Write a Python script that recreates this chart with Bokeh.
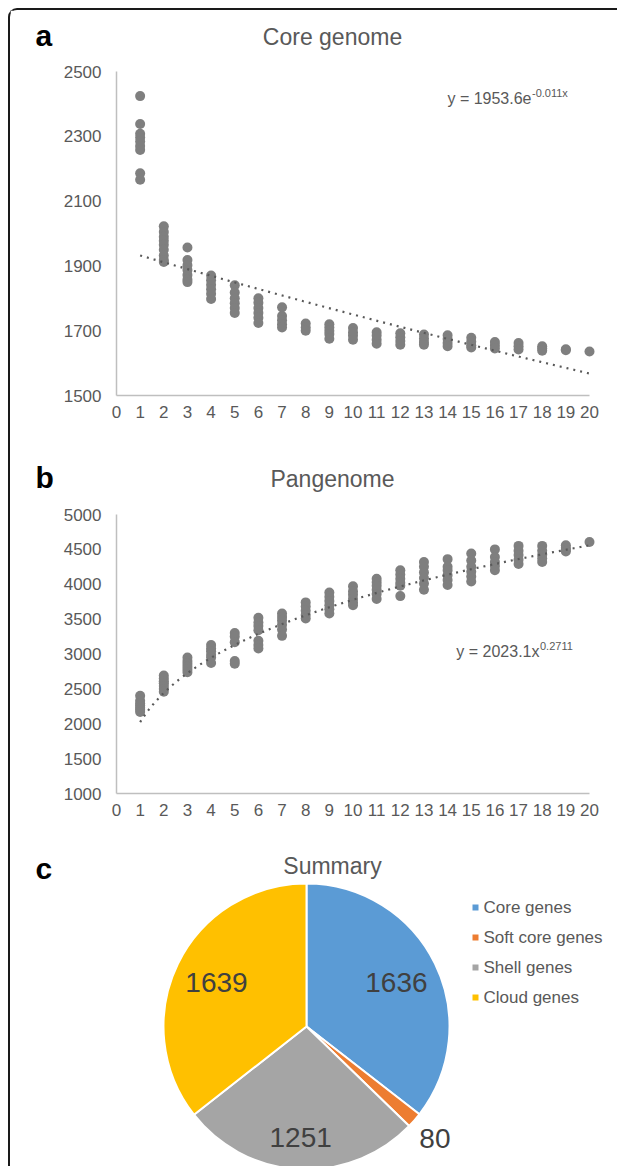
import numpy as np
from bokeh.plotting import figure
from bokeh.models import Range1d, FixedTicker, ColumnDataSource
from bokeh.layouts import column
from bokeh.core.properties import value
from bokeh.embed import file_html
from bokeh.resources import INLINE

# ---------------- data ----------------
genome_number = list(range(1, 21))
x_ticks = list(range(0, 21))
core_y_ticks = [1500, 1700, 1900, 2100, 2300, 2500]
pan_y_ticks = [1000, 1500, 2000, 2500, 3000, 3500, 4000, 4500, 5000]

core_genome = [
    [2424, 2338, 2308, 2296, 2284, 2270, 2258, 2186, 2166],
    [2022, 2005, 1990, 1978, 1965, 1950, 1932, 1918, 1912],
    [1957, 1918, 1902, 1887, 1872, 1858, 1850],
    [1870, 1856, 1842, 1828, 1814, 1798],
    [1840, 1818, 1800, 1785, 1770, 1755],
    [1800, 1786, 1770, 1755, 1740, 1724],
    [1772, 1745, 1732, 1720, 1710],
    [1722, 1710, 1700],
    [1720, 1710, 1700, 1690, 1675],
    [1708, 1695, 1685, 1672],
    [1695, 1685, 1672, 1660],
    [1692, 1680, 1668, 1657],
    [1688, 1676, 1665, 1657],
    [1686, 1674, 1662, 1652],
    [1678, 1666, 1655, 1648],
    [1665, 1655, 1645],
    [1662, 1652, 1642],
    [1652, 1645, 1638],
    [1643, 1640],
    [1636],
]

pangenome = [
    [2400, 2330, 2290, 2260, 2230, 2200, 2170],
    [2690, 2650, 2610, 2580, 2540, 2500, 2460],
    [2950, 2900, 2860, 2820, 2780, 2740],
    [3130, 3080, 3040, 2990, 2950, 2870],
    [3300, 3250, 3170, 2900, 2860],
    [3520, 3450, 3400, 3340, 3190, 3130, 3080],
    [3580, 3530, 3480, 3420, 3350, 3260],
    [3740, 3680, 3620, 3560, 3510],
    [3880, 3820, 3760, 3700, 3640, 3580],
    [3970, 3900, 3850, 3790, 3740, 3700],
    [4080, 4030, 3980, 3920, 3860, 3790],
    [4200, 4140, 4080, 4020, 3980, 3830],
    [4320, 4250, 4170, 4090, 4010, 3920],
    [4360, 4250, 4200, 4130, 4060, 3990],
    [4440, 4340, 4250, 4180, 4110, 4040],
    [4500, 4390, 4320, 4260, 4200],
    [4550, 4480, 4420, 4350, 4290],
    [4550, 4480, 4420, 4370, 4320],
    [4560, 4520, 4490, 4470],
    [4606],
]

# fitted trend lines (as printed on the chart)
core_fit_a, core_fit_k = 1953.6, -0.011      # y = a * e^(k x)
pan_fit_a, pan_fit_p = 2023.1, 0.2711        # y = a * x^p
core_eq_main, core_eq_sup = "y = 1953.6e", "-0.011x"
pan_eq_main, pan_eq_sup = "y = 2023.1x", "0.2711"

summary_labels = ["Core genes", "Soft core genes", "Shell genes", "Cloud genes"]
summary_counts = [1636, 80, 1251, 1639]
summary_colors = ["#5B9BD5", "#ED7D31", "#A5A5A5", "#FFC000"]

# ---------------- style ----------------
FONT = "Liberation Sans"
TXT = "#595959"
DOT = "#7F7F7F"
W = 607
BL, BR = 106, 28           # left / right borders of every panel
FW = W - BL - BR           # frame width (473)
PX0 = 10 + BL              # page x of frame left edge


def flat(groups):
    xs, ys = [], []
    for n, vals in zip(genome_number, groups):
        xs += [n] * len(vals)
        ys += vals
    return xs, ys


def scatter_fig(height, top, bottom, y0, y1, yticks):
    p = figure(width=W, height=height, output_backend="svg", toolbar_location=None,
               x_range=Range1d(0, 20), y_range=Range1d(y0, y1),
               min_border_left=BL, min_border_right=BR,
               min_border_top=top, min_border_bottom=bottom)
    p.grid.visible = False
    p.outline_line_color = None
    for ax in (p.xaxis[0], p.yaxis[0]):
        ax.axis_line_color = "#BFBFBF"
        ax.axis_line_width = 1.5
        ax.major_tick_line_color = None
        ax.minor_tick_line_color = None
        ax.major_tick_in = 0
        ax.major_tick_out = 0
        ax.minor_tick_in = 0
        ax.minor_tick_out = 0
        ax.major_label_text_font = FONT
        ax.major_label_text_font_size = "17px"
        ax.major_label_text_color = TXT
    p.xaxis[0].ticker = FixedTicker(ticks=x_ticks)
    p.yaxis[0].ticker = FixedTicker(ticks=yticks)
    p.xaxis[0].major_label_standoff = 10
    p.yaxis[0].major_label_standoff = 15
    return p


def page_mapper(top, h, x0, x1, y0, y1):
    return (lambda px: x0 + (px - PX0) / FW * (x1 - x0),
            lambda py: y1 - (py - top) / h * (y1 - y0))


def add_text(p, x, y, text, size, color=TXT, align="left", bold=False):
    p.text(x=[x], y=[y], text=[text], text_font=value(FONT), text_font_size=size,
           text_color=color, text_align=align, text_baseline="middle",
           text_font_style="bold" if bold else "normal", level="overlay")


fine_x = np.linspace(1, 20, 200)

# ---------------- panel a ----------------
pa = scatter_fig(430, 61, 45, 1500, 2500, core_y_ticks)
fxa, fya = page_mapper(71, 324, 0, 20, 1500, 2500)
cx, cy = flat(core_genome)
pa.scatter(cx, cy, size=10, fill_color=DOT, line_color=None, level="overlay")
pa.line(fine_x, core_fit_a * np.exp(core_fit_k * fine_x), line_color="#595959",
        line_width=2.2, line_dash="2 5", level="overlay")
add_text(pa, fxa(35), fya(35), "a", "30px", color="black", bold=True)
add_text(pa, fxa(332), fya(36), "Core genome", "23px", align="center")
add_text(pa, fxa(531), fya(98), core_eq_main, "16px", align="right")
add_text(pa, fxa(531.5), fya(92), core_eq_sup, "11px")

# ---------------- panel b ----------------
pb = scatter_fig(398, 74, 45, 1000, 5000, pan_y_ticks)
fxb, fyb = page_mapper(514, 279, 0, 20, 1000, 5000)
px_, py_ = flat(pangenome)
pb.scatter(px_, py_, size=10, fill_color=DOT, line_color=None, level="overlay")
pb.line(fine_x, pan_fit_a * fine_x ** pan_fit_p, line_color="#595959",
        line_width=2.2, line_dash="2 5", level="overlay")
add_text(pb, fxb(35), fyb(477), "b", "30px", color="black", bold=True)
add_text(pb, fxb(332), fyb(478), "Pangenome", "23px", align="center")
add_text(pb, fxb(539), fyb(651), pan_eq_main, "16px", align="right")
add_text(pb, fxb(539.5), fyb(645), pan_eq_sup, "11px")

# ---------------- panel c ----------------
HC = 328
pc = figure(width=W, height=HC, output_backend="svg", toolbar_location=None,
            x_range=Range1d(0, FW), y_range=Range1d(0, HC),
            min_border_left=BL, min_border_right=BR, min_border_top=0, min_border_bottom=0,
            x_axis_type=None, y_axis_type=None)
pc.grid.visible = False
pc.outline_line_color = None
fxc = lambda px: px - PX0
fyc = lambda py: (838 + HC) - py

total = float(sum(summary_counts))
cum = np.concatenate([[0], np.cumsum(summary_counts)])
start = np.pi / 2 - 2 * np.pi * cum[:-1] / total
end = np.pi / 2 - 2 * np.pi * cum[1:] / total
mid = (start + end) / 2
pie_cx, pie_cy, pie_r = fxc(306), fyc(1026), 143
label_r = np.array([0.70, 1.19, 0.78, 0.70]) * pie_r

src = ColumnDataSource(dict(
    start=start, end=end, color=summary_colors, name=summary_labels,
    lx=pie_cx + label_r * np.cos(mid), ly=pie_cy + label_r * np.sin(mid),
    txt=[str(v) for v in summary_counts]))
pc.wedge(x=pie_cx, y=pie_cy, radius=pie_r, start_angle="start", end_angle="end",
         direction="clock", fill_color="color", line_color="white", line_width=2,
         source=src, level="overlay")
pc.text(x="lx", y="ly", text="txt", source=src, text_font=value(FONT),
        text_font_size="28px", text_color="#404040", text_align="center",
        text_baseline="middle", level="overlay")
add_text(pc, fxc(35), fyc(868), "c", "30px", color="black", bold=True)
add_text(pc, fxc(332), fyc(865), "Summary", "23px", align="center")

# legend (square swatch + label per category)
leg_rows = [907, 937, 967, 997]
leg = ColumnDataSource(dict(
    x=[fxc(475)] * 4, y=[fyc(r) for r in leg_rows], tx=[fxc(483)] * 4,
    color=summary_colors, label=summary_labels))
pc.scatter(x="x", y="y", marker="square", size=6, fill_color="color", line_color=None,
           source=leg, level="overlay")
pc.text(x="tx", y="y", text="label", source=leg, text_font=value(FONT),
        text_font_size="17px", text_color=TXT, text_align="left", text_baseline="middle",
        level="overlay")

layout = column(pa, pb, pc, spacing=0,
                styles={"margin-left": "8px", "margin-top": "8px",
                        "border-left": "2px solid #1a1a1a", "border-top": "2px solid #1a1a1a",
                        "border-top-left-radius": "9px"})

open("out.html", "w").write(file_html(layout, INLINE))
